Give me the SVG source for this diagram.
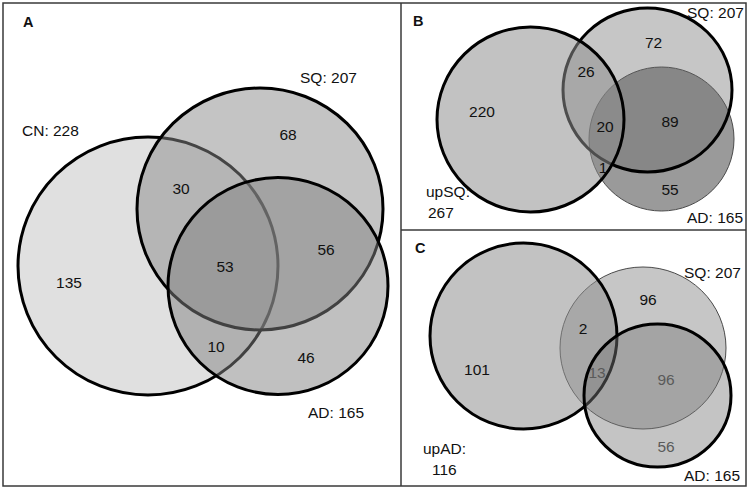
<svg xmlns="http://www.w3.org/2000/svg" width="751" height="490" viewBox="0 0 751 490">
<style>
text{font-family:"Liberation Sans",Arial,sans-serif;font-size:15.5px;fill:#111}
.n{text-anchor:middle}
.p{font-weight:bold;font-size:14.5px}
.g{fill:#5a5a5a}
.thick{stroke:#000;stroke-width:3}
.thin{stroke:#4a4a4a;stroke-width:1}
.frame{fill:none;stroke:#3a3a3a;stroke-width:1.5}
</style>
<rect width="751" height="490" fill="#fff"/>
<g id="frame">
<rect class="frame" x="3" y="3" width="743" height="483"/>
<line class="frame" x1="401" y1="3" x2="401" y2="486"/>
<line class="frame" x1="401" y1="230" x2="746" y2="230"/>
</g>
<g id="panelA">
<g id="A-CN"><ellipse class="thick" cx="148" cy="266" rx="130" ry="129" fill="#e0e0e0"/></g>
<g id="A-SQ"><ellipse class="thick" cx="260" cy="209" rx="123" ry="121" fill="#898989" fill-opacity="0.5"/></g>
<g id="A-AD"><ellipse class="thick" cx="278" cy="286" rx="110" ry="108.5" fill="#818181" fill-opacity="0.5"/></g>
<g id="A-labels">
<text class="p" x="23" y="27">A</text>
<text x="22" y="136">CN: 228</text>
<text x="300" y="83">SQ: 207</text>
<text x="308" y="418">AD: 165</text>
<text class="n" x="288" y="140">68</text>
<text class="n" x="181" y="194">30</text>
<text class="n" x="326" y="255">56</text>
<text class="n" x="225" y="272">53</text>
<text class="n" x="69" y="288">135</text>
<text class="n" x="216" y="352">10</text>
<text class="n" x="306" y="363">46</text>
</g>
</g>
<g id="panelB">
<g id="B-AD"><ellipse class="thin" cx="661.5" cy="139" rx="72.5" ry="72" fill="#9a9a9a"/></g>
<g id="B-SQ"><ellipse class="thick" cx="647.5" cy="90" rx="84.5" ry="82" fill="#686868" fill-opacity="0.376"/></g>
<g id="B-upSQ"><ellipse class="thick" cx="530.5" cy="119.5" rx="93.5" ry="92.5" fill="#8e8e8e" fill-opacity="0.54"/></g>
<g id="B-labels">
<text class="p" x="413" y="26">B</text>
<text x="687" y="18">SQ: 207</text>
<text x="687" y="223">AD: 165</text>
<text x="426" y="197">upSQ:</text>
<text x="428" y="218">267</text>
<text class="n" x="653.5" y="48">72</text>
<text class="n" x="586" y="77">26</text>
<text class="n" x="482" y="117">220</text>
<text class="n" x="605" y="132">20</text>
<text class="n" x="670" y="127">89</text>
<text class="n" x="603" y="173">1</text>
<text class="n" x="670" y="195">55</text>
</g>
</g>
<g id="panelC">
<g id="C-SQ"><ellipse class="thin" cx="643" cy="348" rx="83" ry="81" fill="#c6c6c6"/></g>
<g id="C-upAD"><ellipse class="thick" cx="523.5" cy="336" rx="93.5" ry="93" fill="#8e8e8e" fill-opacity="0.54"/></g>
<g id="C-AD"><ellipse class="thick" cx="657.5" cy="395.5" rx="73.5" ry="71.5" fill="#787878" fill-opacity="0.44"/></g>
<g id="C-labels">
<text class="p" x="415" y="253">C</text>
<text x="684" y="278">SQ: 207</text>
<text x="684" y="481">AD: 165</text>
<text x="423" y="454">upAD:</text>
<text x="432" y="475">116</text>
<text class="n" x="648" y="305">96</text>
<text class="n" x="583" y="334">2</text>
<text class="n" x="477" y="375">101</text>
<text class="n g" x="597" y="378">13</text>
<text class="n g" x="666" y="385">96</text>
<text class="n g" x="666" y="452">56</text>
</g>
</g>
</svg>
